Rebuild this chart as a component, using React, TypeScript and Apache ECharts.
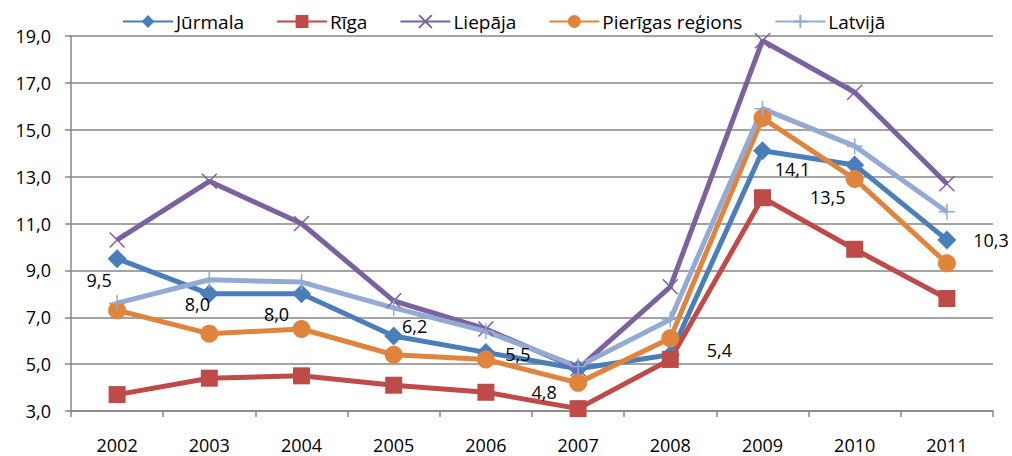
import React, { useEffect, useRef } from "react";
import * as echarts from "echarts";

const years = ["2002", "2003", "2004", "2005", "2006", "2007", "2008", "2009", "2010", "2011"];
const jurmala = [9.5, 8.0, 8.0, 6.2, 5.5, 4.8, 5.4, 14.1, 13.5, 10.3];
const riga = [3.7, 4.4, 4.5, 4.1, 3.8, 3.1, 5.2, 12.1, 9.9, 7.8];
const liepaja = [10.3, 12.8, 11.0, 7.7, 6.5, 4.8, 8.3, 18.8, 16.6, 12.7];
const pierigas = [7.3, 6.3, 6.5, 5.4, 5.2, 4.2, 6.1, 15.5, 12.9, 9.3];
const latvija = [7.6, 8.6, 8.5, 7.4, 6.4, 4.9, 6.9, 15.9, 14.3, 11.5];

// Hand-placed offsets of the Jūrmala value labels, relative to each point
const labelOffsets: [number, number][] = [
  [-18, 21], [-12, 10], [-25, 20], [21, -10], [32, 2],
  [-34, 23], [49, -5], [30, 18], [-27, 32], [44, 0],
];

const FONT = "'Open Sans', 'Noto Sans', sans-serif";
const fmt = (v: number) => v.toFixed(1).replace(".", ",");

export default function App() {
  const ref = useRef<HTMLDivElement>(null);

  useEffect(() => {
    if (!ref.current) return;
    const chart = echarts.init(ref.current, null, { renderer: "svg" });

    const mk = (
      name: string,
      data: number[],
      color: string,
      symbol: string,
      symbolSize: number,
      stroked = false
    ) => ({
      name,
      type: "line",
      data,
      symbol,
      symbolSize,
      showAllSymbol: true,
      lineStyle: { color, width: 5 },
      itemStyle: stroked
        ? { color, borderColor: color, borderWidth: 1.5 }
        : { color, borderWidth: 0 },
      emphasis: { disabled: true },
    });

    const jurmalaSeries: any = mk("Jūrmala", jurmala, "#4A7EBB", "diamond", 19);
    jurmalaSeries.data = jurmala.map((v, i) => ({
      value: v,
      label: {
        show: true,
        position: "inside",
        offset: labelOffsets[i],
        formatter: () => fmt(v),
        color: "#000",
        fontSize: 18,
        fontFamily: FONT,
        align: "center",
        verticalAlign: "middle",
      },
    }));

    chart.setOption({
      animation: false,
      backgroundColor: "#fff",
      legend: {
        top: 7,
        left: 117,
        itemWidth: 50,
        itemHeight: 16,
        itemGap: 32,
        textStyle: { fontSize: 19, fontFamily: FONT, color: "#000", padding: [0, 0, 0, -2] },
        data: ["Jūrmala", "Rīga", "Liepāja", "Pierīgas reģions", "Latvijā"],
      },
      grid: { left: 71, right: 19, top: 36, bottom: 45 },
      xAxis: {
        type: "category",
        data: years,
        boundaryGap: true,
        axisLine: { lineStyle: { color: "#868686", width: 1.5 } },
        axisTick: { show: true, length: 6, lineStyle: { color: "#868686", width: 1.5 } },
        axisLabel: { fontSize: 18, fontFamily: FONT, color: "#000", margin: 25 },
        splitLine: { show: false },
      },
      yAxis: {
        type: "value",
        min: 3,
        max: 19,
        interval: 2,
        axisLine: { show: true, lineStyle: { color: "#868686", width: 1.5 } },
        axisTick: { show: true, inside: false, length: 6, lineStyle: { color: "#868686", width: 1.5 } },
        axisLabel: {
          fontSize: 18,
          fontFamily: FONT,
          color: "#000",
          margin: 20,
          formatter: (v: number) => fmt(v),
        },
        splitLine: { show: true, lineStyle: { color: "#868686", width: 1.5 } },
      },
      series: [
        jurmalaSeries,
        mk("Rīga", riga, "#BE4B48", "rect", 17),
        mk("Liepāja", liepaja, "#7D60A0", "path://M0,0L10,10M10,0L0,10", 15, true),
        mk("Pierīgas reģions", pierigas, "#E0843D", "circle", 18),
        mk("Latvijā", latvija, "#93AAD4", "path://M5,0L5,10M0,5L10,5", 16, true),
      ],
    });

    return () => chart.dispose();
  }, []);

  return (
    <div
      ref={ref}
      style={{ position: "fixed", left: 0, top: 0, width: 1012, height: 456 }}
    />
  );
}
